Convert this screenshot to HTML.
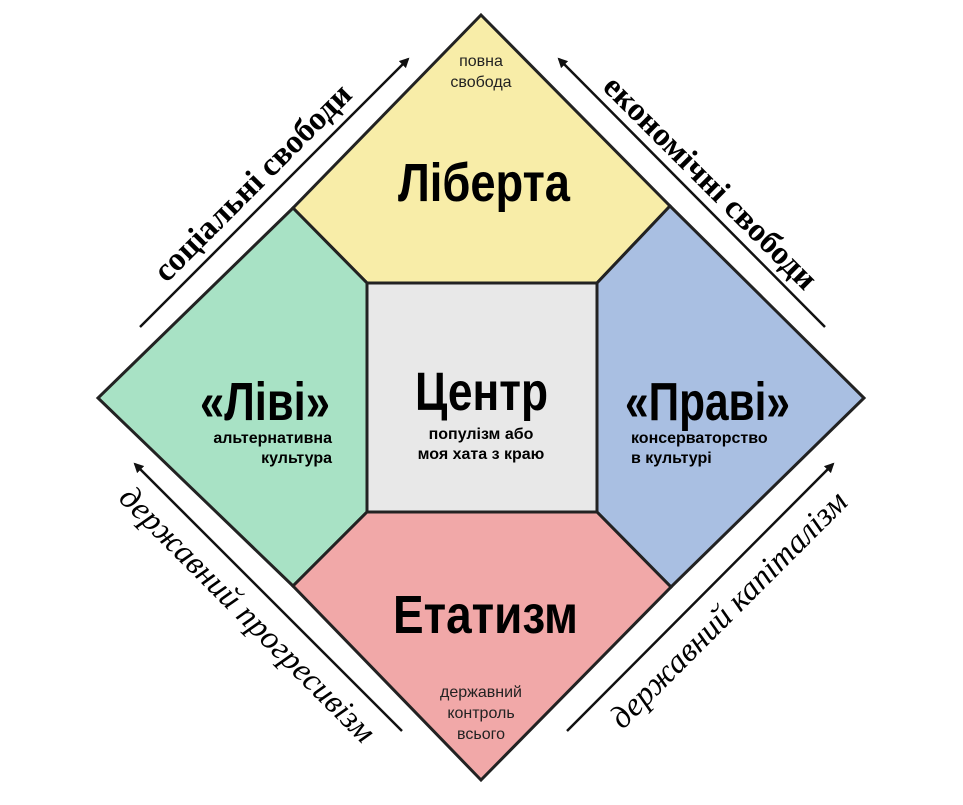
<!DOCTYPE html>
<html><head><meta charset="utf-8"><style>html,body{margin:0;padding:0;background:#fff}svg{display:block}</style></head>
<body>
<svg width="963" height="805" viewBox="0 0 963 805" xmlns="http://www.w3.org/2000/svg">
<defs><marker id="ah" markerWidth="10" markerHeight="10" refX="8" refY="5" orient="auto" markerUnits="userSpaceOnUse"><path d="M0,0 L10,5 L0,10 z" fill="#111"/></marker></defs>
<g stroke="#222" stroke-width="3" stroke-linejoin="miter">
<polygon points="481,15 670,206 597,283 367,283 293,208" fill="#f8eda8"/>
<polygon points="293,208 367,283 367,512 293,586 98,398" fill="#a8e2c5"/>
<polygon points="670,206 864,398 671,587 597,512 597,283" fill="#a9bfe2"/>
<polygon points="293,586 367,512 597,512 671,587 481,780" fill="#f1a8a8"/>
<rect x="367" y="283" width="230" height="229" fill="#e8e8e8"/>
</g>
<g stroke="#111" stroke-width="2.5" fill="none">
<line x1="140" y1="327" x2="408" y2="59" marker-end="url(#ah)"/>
<line x1="825" y1="327" x2="559" y2="59" marker-end="url(#ah)"/>
<line x1="402" y1="731" x2="135" y2="464" marker-end="url(#ah)"/>
<line x1="567" y1="731" x2="833" y2="464" marker-end="url(#ah)"/>
</g>
<g font-family="Liberation Sans, sans-serif" font-weight="bold" fill="#000">
<text x="398" y="201" font-size="54" textLength="172" lengthAdjust="spacingAndGlyphs">Ліберта</text>
<text x="415" y="410" font-size="54" textLength="133" lengthAdjust="spacingAndGlyphs">Центр</text>
<text x="200" y="420" font-size="54" textLength="130" lengthAdjust="spacingAndGlyphs">«Ліві»</text>
<text x="625" y="420" font-size="54" textLength="165" lengthAdjust="spacingAndGlyphs">«Праві»</text>
<text x="393" y="633" font-size="54" textLength="185" lengthAdjust="spacingAndGlyphs">Етатизм</text>
<g font-size="16">
<text x="481" y="439" text-anchor="middle">популізм або</text>
<text x="481" y="459" text-anchor="middle">моя хата з краю</text>
<text x="332" y="443" text-anchor="end">альтернативна</text>
<text x="332" y="463" text-anchor="end">культура</text>
<text x="631" y="443">консерваторство</text>
<text x="631" y="463">в культурі</text>
</g>
</g>
<g font-family="Liberation Sans, sans-serif" font-size="16" fill="#222" text-anchor="middle">
<text x="481" y="66">повна</text>
<text x="481" y="87">свобода</text>
<text x="481" y="697">державний</text>
<text x="481" y="718">контроль</text>
<text x="481" y="739">всього</text>
</g>
<g font-family="Liberation Serif, serif" fill="#000" font-size="33" text-anchor="middle">
<text transform="translate(260,190) rotate(-45)" font-weight="bold">соціальні свободи</text>
<text transform="translate(703,190) rotate(45)" font-weight="bold">економічні свободи</text>
<text transform="translate(240,622) rotate(45)" font-style="italic">державний прогресивізм</text>
<text transform="translate(736,617) rotate(-45)" font-style="italic">державний капіталізм</text>
</g>
</svg>
</body></html>
